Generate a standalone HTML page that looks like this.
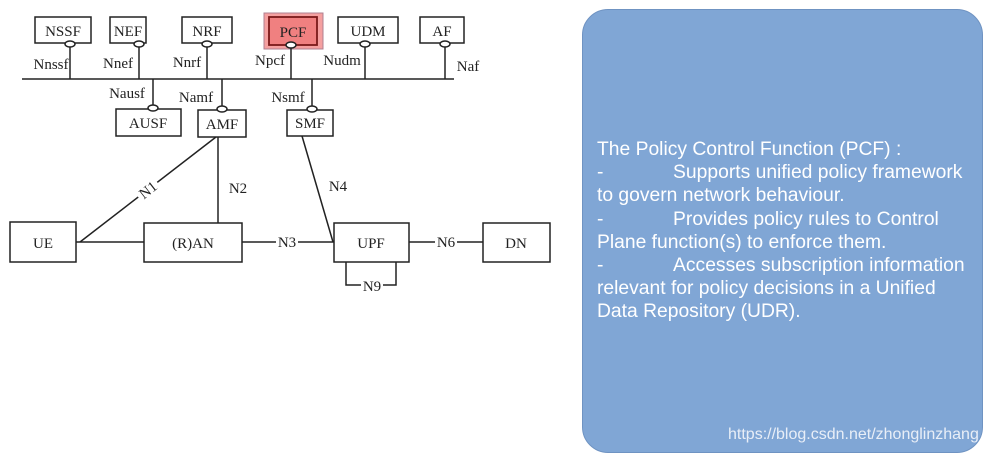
<!DOCTYPE html>
<html><head><meta charset="utf-8"><style>
html,body{margin:0;padding:0;background:#fff;width:987px;height:457px;overflow:hidden;position:relative}
svg{position:absolute;left:0;top:0}
.panel{position:absolute;left:582px;top:9px;width:401px;height:444px;background:#80a6d5;border-radius:26px;border:1px solid #6f93c2;box-sizing:border-box}
.txt{position:absolute;left:597px;top:138px;width:385px;color:#fff;font-family:"Liberation Sans",sans-serif;font-size:19.3px;line-height:23.2px;white-space:nowrap}
.url{position:absolute;left:728px;top:426px;color:#e8eef7;font-family:"Liberation Sans",sans-serif;font-size:16px}
</style></head><body>
<svg width="987" height="457" font-family="Liberation Serif, serif" font-size="15" fill="none" stroke="#222" stroke-width="1.5">
<line x1="22" y1="79" x2="454" y2="79"/>
<rect x="35" y="17" width="56" height="26"/>
<rect x="110" y="17" width="36" height="26"/>
<rect x="182" y="17" width="50" height="26"/>
<rect x="264" y="13" width="59" height="36" fill="#f5a0a0" stroke="#b08090" stroke-width="1"/>
<rect x="269" y="17" width="48" height="28" fill="#f08080" stroke="#7a1a1a" stroke-width="1.8"/>
<rect x="338" y="17" width="60" height="26"/>
<rect x="420" y="17" width="44" height="26"/>
<line x1="70" y1="45" x2="70" y2="79"/>
<line x1="139" y1="45" x2="139" y2="79"/>
<line x1="207" y1="45" x2="207" y2="79"/>
<line x1="291" y1="46" x2="291" y2="79"/>
<line x1="365" y1="45" x2="365" y2="79"/>
<line x1="445" y1="45" x2="445" y2="79"/>
<g fill="#fff">
<ellipse cx="70" cy="44" rx="5" ry="3"/>
<ellipse cx="139" cy="44" rx="5" ry="3"/>
<ellipse cx="207" cy="44" rx="5" ry="3"/>
<ellipse cx="291" cy="45" rx="5" ry="3"/>
<ellipse cx="365" cy="44" rx="5" ry="3"/>
<ellipse cx="445" cy="44" rx="5" ry="3"/>
</g>
<rect x="116" y="109" width="65" height="27"/>
<rect x="198" y="110" width="48" height="27"/>
<rect x="287" y="110" width="46" height="26"/>
<line x1="153" y1="79" x2="153" y2="108"/>
<line x1="222" y1="79" x2="222" y2="109"/>
<line x1="312" y1="79" x2="312" y2="108"/>
<g fill="#fff">
<ellipse cx="153" cy="108" rx="5" ry="3"/>
<ellipse cx="222" cy="109" rx="5" ry="3"/>
<ellipse cx="312" cy="109" rx="5" ry="3"/>
</g>
<rect x="10" y="222" width="66" height="40"/>
<rect x="144" y="223" width="98" height="39"/>
<rect x="334" y="223" width="75" height="39"/>
<rect x="483" y="223" width="67" height="39"/>
<line x1="80" y1="242" x2="216" y2="137"/>
<line x1="76" y1="242" x2="144" y2="242"/>
<line x1="218" y1="137" x2="218" y2="223"/>
<line x1="302" y1="136" x2="333" y2="242"/>
<line x1="242" y1="242" x2="334" y2="242"/>
<line x1="409" y1="242" x2="483" y2="242"/>
<polyline points="346,262 346,285 396,285 396,262"/>
<g fill="#fff" stroke="none">
<rect x="136" y="182" width="24" height="16" transform="rotate(-38 148 190)"/>
<rect x="276" y="234" width="22" height="15"/>
<rect x="435" y="234" width="22" height="15"/>
<rect x="361" y="278" width="22" height="14"/>
</g>
<g fill="#222" stroke="none" text-anchor="middle">
<text x="63" y="36">NSSF</text>
<text x="128" y="36">NEF</text>
<text x="207" y="36">NRF</text>
<text x="293" y="37">PCF</text>
<text x="368" y="36">UDM</text>
<text x="442" y="36">AF</text>
<text x="51" y="69">Nnssf</text>
<text x="118" y="68">Nnef</text>
<text x="187" y="67">Nnrf</text>
<text x="270" y="65">Npcf</text>
<text x="342" y="65">Nudm</text>
<text x="468" y="71">Naf</text>
<text x="127" y="98">Nausf</text>
<text x="196" y="102">Namf</text>
<text x="288" y="102">Nsmf</text>
<text x="148" y="128">AUSF</text>
<text x="222" y="129">AMF</text>
<text x="310" y="128">SMF</text>
<text x="43" y="248">UE</text>
<text x="193" y="248">(R)AN</text>
<text x="371" y="248">UPF</text>
<text x="516" y="248">DN</text>
<text x="238" y="193">N2</text>
<text x="338" y="191">N4</text>
<text x="287" y="247">N3</text>
<text x="446" y="247">N6</text>
<text x="372" y="291">N9</text>
<text x="148" y="195" transform="rotate(-38 148 190)">N1</text>
</g>
</svg>
<div class="panel"></div>
<div class="txt">The Policy Control Function (PCF) :<br>-&nbsp;&nbsp;&nbsp;&nbsp;&nbsp;&nbsp;&nbsp;&nbsp;&nbsp;&nbsp;&nbsp;&nbsp;&nbsp;Supports unified policy framework<br>to govern network behaviour.<br>-&nbsp;&nbsp;&nbsp;&nbsp;&nbsp;&nbsp;&nbsp;&nbsp;&nbsp;&nbsp;&nbsp;&nbsp;&nbsp;Provides policy rules to Control<br>Plane function(s) to enforce them.<br>-&nbsp;&nbsp;&nbsp;&nbsp;&nbsp;&nbsp;&nbsp;&nbsp;&nbsp;&nbsp;&nbsp;&nbsp;&nbsp;Accesses subscription information<br>relevant for policy decisions in a Unified<br>Data Repository (UDR).</div>
<div class="url">https://blog.csdn.net/zhonglinzhang</div>
</body></html>
